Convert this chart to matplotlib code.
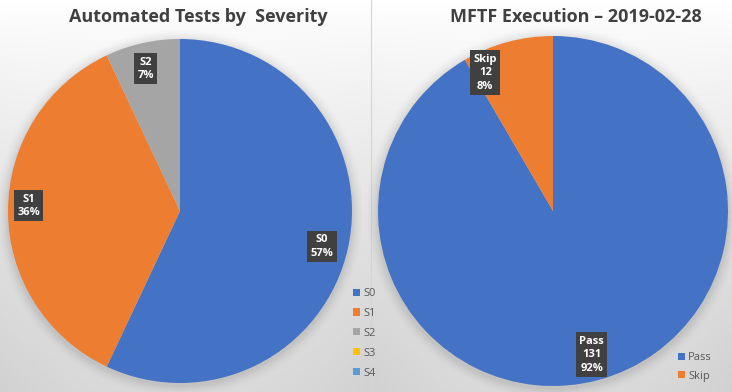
import numpy as np
import matplotlib
matplotlib.use("Agg")
import matplotlib.pyplot as plt
from matplotlib.patches import Patch

# ---- data ----
sev_labels = ["S0", "S1", "S2", "S3", "S4"]
sev_values = [57, 36, 7, 0, 0]
sev_colors = ["#4472C4", "#ED7D31", "#A5A5A5", "#FFC000", "#5B9BD5"]

exec_labels = ["Pass", "Skip"]
exec_values = [131, 12]
exec_colors = ["#4472C4", "#ED7D31"]

title_left = "Automated Tests by  Severity"
title_right = "MFTF Execution \u2013 2019-02-28"

W, H = 732, 392
fig = plt.figure(figsize=(W / 100, H / 100), dpi=100)
plt.rcParams['font.family'] = ['Open Sans', 'DejaVu Sans']

# background gradient
bg = fig.add_axes([0, 0, 1, 1])
yy = np.linspace(0, 1, 200)[:, None]
xx = np.linspace(0, 1, 400)[None, :]
panel_x = np.where(xx < 371 / 732, (xx * 732) / 371, (xx * 732 - 371) / 361)
edge = (np.abs(panel_x - 0.5) * 2) ** 2
val = 1.0 - 0.14 * yy ** 0.8 - 0.04 * edge * yy
img = np.dstack([val, val, val])
bg.imshow(img, extent=[0, 1, 0, 1], aspect='auto', origin='upper')
bg.axvline(371 / 732, color="#d4d4d4", lw=0.8)
bg.set_axis_off()


def draw_pie(rect, values, colors, labels, fmt, rfrac, dang):
    ax = fig.add_axes(rect)
    # soft shadow
    for i, a in enumerate(np.linspace(0.03, 0.005, 6)):
        c = plt.Circle((0.0, -0.01), 1.0 + 0.012 * (i + 1), color="black", alpha=a, lw=0)
        ax.add_patch(c)
    wedges, _ = ax.pie(values, colors=colors, startangle=90, counterclock=False,
                       radius=1.0, wedgeprops=dict(linewidth=0))
    total = sum(values)
    for w, v, lab, rf, da in zip(wedges, values, labels, rfrac, dang):
        if v == 0:
            continue
        ang = np.deg2rad((w.theta1 + w.theta2) / 2 + da)
        x, y = rf * np.cos(ang), rf * np.sin(ang)
        ax.text(x, y, fmt(lab, v, total), ha="center", va="center", color="white",
                fontsize=8, fontweight="bold", linespacing=1.3,
                bbox=dict(boxstyle="square,pad=0.3", fc="#404040", ec="none"))
    ax.set_xlim(-1.06, 1.06)
    ax.set_ylim(-1.06, 1.06)
    ax.set_aspect("equal")
    ax.set_axis_off()
    return ax, wedges


r1 = 172 * 1.06
cx1, cy1 = 180, 211
ax1, w1 = draw_pie([(cx1 - r1) / W, (H - cy1 - r1) / H, 2 * r1 / W, 2 * r1 / H],
                   sev_values, sev_colors, sev_labels,
                   lambda l, v, t: f"{l}\n{round(100 * v / t)}%",
                   [0.85, 0.88, 0.85, 0.85, 0.85], [-1.5, -2, 1, 0, 0])

r2 = 175 * 1.06
cx2, cy2 = 553, 211
ax2, w2 = draw_pie([(cx2 - r2) / W, (H - cy2 - r2) / H, 2 * r2 / W, 2 * r2 / H],
                   exec_values, exec_colors, exec_labels,
                   lambda l, v, t: f"{l}\n{v}\n{round(100 * v / t)}%",
                   [0.85, 0.88], [0, 11])

fig.text(198 / W, 1 - 17 / H, title_left, ha="center", va="center",
         fontsize=13, fontweight="bold", color="#404040")
fig.text(576 / W, 1 - 17 / H, title_right, ha="center", va="center",
         fontsize=13, fontweight="bold", color="#404040")

# legends
h1 = [Patch(facecolor=c, edgecolor="none", label=l) for c, l in zip(sev_colors, sev_labels)]
fig.legend(handles=h1, loc="upper left", bbox_to_anchor=(343 / W, 1 - 278 / H),
           frameon=False, fontsize=8, handlelength=0.6, handleheight=0.6,
           handletextpad=0.3, labelspacing=0.8, labelcolor="#595959")
h2 = [Patch(facecolor=c, edgecolor="none", label=l) for c, l in zip(exec_colors, exec_labels)]
fig.legend(handles=h2, loc="upper left", bbox_to_anchor=(668 / W, 1 - 342 / H),
           frameon=False, fontsize=8, handlelength=0.6, handleheight=0.6,
           handletextpad=0.3, labelspacing=0.7, labelcolor="#595959")

fig.savefig("out.png", dpi=100)
